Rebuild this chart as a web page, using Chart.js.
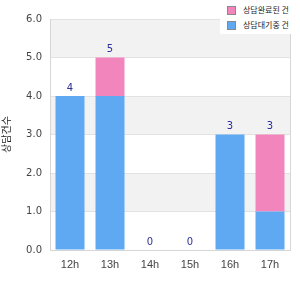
<!DOCTYPE html>
<html>
<head>
<meta charset="utf-8">
<script src="https://cdn.jsdelivr.net/npm/chart.js@4"></script>
<style>
  body { margin: 0; background: #fff; }
  #wrap { position: relative; width: 300px; height: 300px; }
  #legend { position: absolute; top: 0; left: 220px; width: 80px; height: 34px; background: #fff;
    font: 8px "Noto Sans CJK KR", sans-serif; color: #222; }
  #legend div { position: absolute; left: 7px; height: 14px; line-height: 14px; padding-left: 16px; white-space: nowrap; }
  #legend span { position: absolute; left: 0; top: 3px; width: 7px; height: 7px; border: 1px solid #888; }
</style>
</head>
<body>
<div id="wrap">
  <canvas id="chart" width="300" height="300"></canvas>
  <div id="legend"></div>
</div>
<script>
var hours = ['12h', '13h', '14h', '15h', '16h', '17h'];
var waitingCounts = [4, 4, 0, 0, 3, 1];   // blue
var doneCounts = [0, 1, 0, 0, 0, 2];      // pink
var yTicks = [0, 1, 2, 3, 4, 5, 6];

var blue = '#5fa9f3';
var pink = '#f385bd';

// alternate grey / white bands behind the bars
var bandPlugin = {
    id: 'bands',
    beforeDraw: function(chart) {
        var ctx = chart.ctx, area = chart.chartArea, y = chart.scales.y;
        ctx.save();
        ctx.fillStyle = '#f2f2f2';
        for (var i = 1; i < yTicks.length; i += 2) {
            var top = y.getPixelForValue(yTicks[yTicks.length - i]);
            var bottom = y.getPixelForValue(yTicks[yTicks.length - i - 1]);
            ctx.fillRect(area.left, top, area.right - area.left, bottom - top);
        }
        ctx.restore();
    }
};

// total on top of each stack
var totalPlugin = {
    id: 'totals',
    afterDatasetsDraw: function(chart) {
        var ctx = chart.ctx, meta = chart.getDatasetMeta(0);
        ctx.save();
        ctx.fillStyle = '#2e2e9c';
        ctx.font = '10px "DejaVu Sans"';
        ctx.textAlign = 'center';
        ctx.textBaseline = 'middle';
        hours.forEach(function(h, i) {
            var total = waitingCounts[i] + doneCounts[i];
            var x = meta.data[i].x;
            var y = chart.scales.y.getPixelForValue(total) - 8;
            ctx.fillText(String(total), x, y);
        });
        ctx.restore();
    }
};

var ctx = document.getElementById('chart').getContext('2d');
var chart = new Chart(ctx, {
    type: 'bar',
    data: {
        labels: hours,
        datasets: [{
            label: '상담대기중 건',
            data: waitingCounts,
            backgroundColor: blue,
            barPercentage: 0.725,
            categoryPercentage: 1
        }, {
            label: '상담완료된 건',
            data: doneCounts,
            backgroundColor: pink,
            barPercentage: 0.725,
            categoryPercentage: 1
        }]
    },
    options: {
        responsive: false,
        animation: false,
        layout: { padding: { top: 19, right: 10, left: 0, bottom: 0 } },
        plugins: { legend: { display: false }, tooltip: { enabled: false } },
        scales: {
            x: {
                stacked: true,
                grid: { display: false, drawTicks: false },
                border: { color: '#d6d6d6' },
                ticks: { color: '#444', font: { family: 'Liberation Sans', size: 11 }, padding: 8 },
                afterFit: function(s) { s.height = 50; }
            },
            y: {
                stacked: true,
                min: 0,
                max: 6,
                grid: { color: '#e2e2e2', drawTicks: false },
                border: { color: '#d6d6d6' },
                ticks: {
                    stepSize: 1,
                    color: '#444',
                    padding: 8,
                    font: { family: 'DejaVu Sans', size: 10 },
                    callback: function(v) { return Number(v).toFixed(1); }
                },
                title: {
                    display: true,
                    text: '상담건수',
                    color: '#222',
                    font: { family: 'Noto Sans CJK KR', size: 10 },
                    padding: { top: 0, bottom: 2 }
                },
                afterFit: function(s) { s.width = 50; }
            }
        }
    },
    plugins: [bandPlugin, totalPlugin, {
        id: 'rightBorder',
        afterDraw: function(chart) {
            var c = chart.ctx, a = chart.chartArea;
            c.save();
            c.strokeStyle = '#d6d6d6';
            c.beginPath();
            c.moveTo(a.right + 0.5, a.top);
            c.lineTo(a.right + 0.5, a.bottom);
            c.stroke();
            c.restore();
        }
    }]
});

// legend box, pink first
var legend = document.getElementById('legend');
[1, 0].forEach(function(idx, row) {
    var ds = chart.data.datasets[idx];
    var item = document.createElement('div');
    item.style.top = (3 + row * 15) + 'px';
    item.innerHTML = '<span style="background:' + ds.backgroundColor + '"></span>' + ds.label;
    legend.appendChild(item);
});
</script>
</body>
</html>
